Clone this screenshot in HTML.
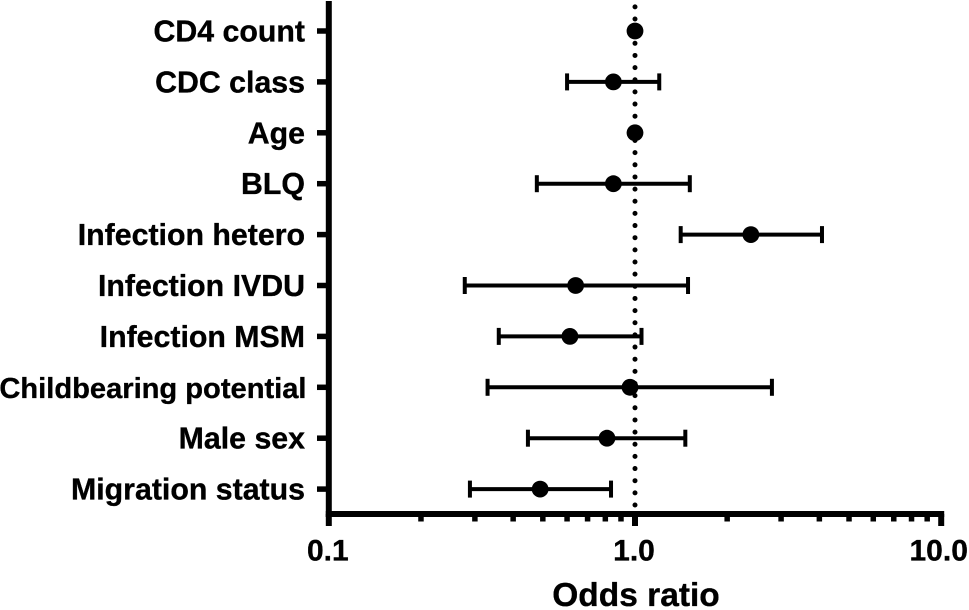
<!DOCTYPE html>
<html>
<head>
<meta charset="utf-8">
<title>Odds ratio forest plot</title>
<style>
html,body{margin:0;padding:0;background:#fff;}
svg{display:block;}
text{font-family:"Liberation Sans",sans-serif;font-weight:bold;fill:#000;stroke:#000;stroke-width:0.35px;}
</style>
</head>
<body>
<svg id="chart" xmlns="http://www.w3.org/2000/svg" width="969" height="610" viewBox="0 0 969 610">
<rect x="0" y="0" width="969" height="610" fill="#ffffff"></rect>
</svg>
<script>
const categories = ["CD4 count","CDC class","Age","BLQ","Infection hetero","Infection IVDU","Infection MSM","Childbearing potential","Male sex","Migration status"];
const oddsRatios = [1.0,0.85,1.0,0.85,2.39,0.64,0.613,0.963,0.81,0.49];
const lowerCI = [null,0.6,null,0.478,1.41,0.278,0.359,0.33,0.447,0.289];
const upperCI = [null,1.2,null,1.51,4.08,1.49,1.05,2.8,1.46,0.835];
const majorTicks = [0.1,1,10];
const majorTickLabels = ["0.1","1.0","10.0"];
const minorTicks = [0.2,0.3,0.4,0.5,0.6,0.7,0.8,0.9,2,3,4,5,6,7,8,9];
const referenceValue = 1;

const svg = document.getElementById('chart');
const NS = 'http://www.w3.org/2000/svg';
function xScale(v){ return 635 + (Math.log10(v) * 306.2); }
function yScale(i){ return 31 + i * 50.9; }
function make(tag, attrs, parent){
  const el = document.createElementNS(NS, tag);
  for (const k in attrs) el.setAttribute(k, attrs[k]);
  (parent || svg).appendChild(el);
  return el;
}
const axisBottom = 514;
const refX = xScale(referenceValue);

const refLine = make('line', {x1:refX, x2:refX, y1:505, y2:3, stroke:'#000', 'stroke-width':5, 'stroke-linecap':'round', 'stroke-dasharray':'0 12.15'});



const yAxis = make('line', {x1:xScale(0.1), x2:xScale(0.1), y1:1, y2:axisBottom+3, stroke:'#000', 'stroke-width':6});



const xAxis = make('line', {x1:xScale(0.1)-3, x2:xScale(10)+3, y1:axisBottom, y2:axisBottom, stroke:'#000', 'stroke-width':6});



majorTicks.forEach(function(v, i){
  const x = xScale(v);
  const tick = make('line', {x1:x, x2:x, y1:axisBottom, y2:526, stroke:'#000', 'stroke-width':6});
  
  
  const label = make('text', {x:x+(i===2?-2.5:-1), y:560.5, 'text-anchor':'middle', 'font-size':30});
  
  
  label.textContent = majorTickLabels[i];
});
minorTicks.forEach(function(v){
  const x = xScale(v);
  const tick = make('line', {x1:x, x2:x, y1:axisBottom, y2:521.5, stroke:'#000', 'stroke-width':5.5});
  
  
});

categories.forEach(function(name, i){
  const y = yScale(i);
  const tick = make('line', {x1:317, x2:xScale(0.1), y1:y, y2:y, stroke:'#000', 'stroke-width':5.5});
  
  
  const longLabel = name.length > 20;
  const label = make('text', {x:longLabel ? 306.5 : 305, y:y+10.5, 'text-anchor':'end', 'font-size':longLabel ? 29.1 : 30.3});
  
  
  label.textContent = name;

  if (lowerCI[i] !== null && upperCI[i] !== null) {
    const xl = xScale(lowerCI[i]);
    const xh = xScale(upperCI[i]);
    const bar = make('line', {x1:xl, x2:xh, y1:y, y2:y, stroke:'#000', 'stroke-width':4});
    
    
    const capL = make('line', {x1:xl, x2:xl, y1:y-8.5, y2:y+8.5, stroke:'#000', 'stroke-width':4});
    
    
    const capH = make('line', {x1:xh, x2:xh, y1:y-8.5, y2:y+8.5, stroke:'#000', 'stroke-width':4});
    
    
  }
  const dot = make('circle', {cx:xScale(oddsRatios[i]), cy:y, r:8.4, fill:'#000'});
  
  
});

const title = make('text', {x:636, y:606, 'text-anchor':'middle', 'font-size':33.5});


title.textContent = 'Odds ratio';
</script>
</body>
</html>
